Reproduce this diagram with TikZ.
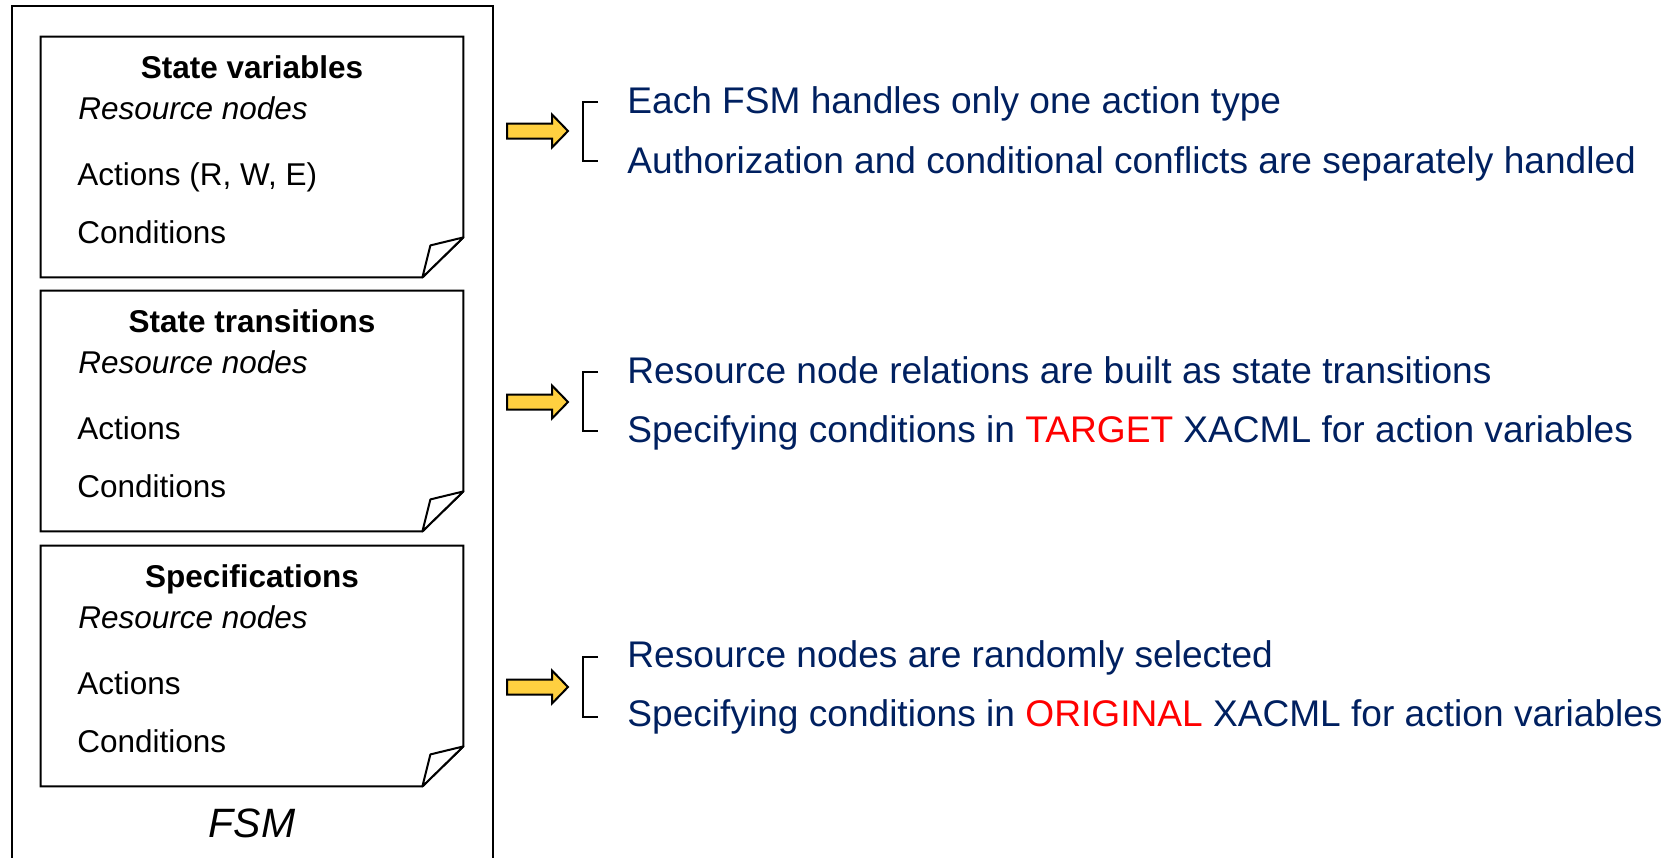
\documentclass[tikz,border=0pt]{standalone}
\usepackage{fontspec}
\setmainfont{Liberation Sans}
\definecolor{navy}{HTML}{002060}
\definecolor{hot}{HTML}{FF0000}
\definecolor{gold}{HTML}{FFD040}

\begin{document}
\begin{tikzpicture}[x=0.5pt,y=-0.5pt,
  frame/.style={line width=1pt, line join=miter},
  notetitle/.style={anchor=base, inner sep=0, font=\fontsize{15.75}{18}\selectfont\bfseries},
  noteitem/.style={anchor=base west, inner sep=0, font=\fontsize{15.75}{18}\selectfont},
  remark/.style={anchor=base west, inner sep=0, text=navy, font=\fontsize{18.55}{22}\selectfont},
  blockarrow/.style={draw=black, fill=gold, line width=1pt, line join=miter},
  bracket/.style={draw=black, line width=1pt},
]
\useasboundingbox (0,0) rectangle (1679,857);
\clip (0,0) rectangle (1679,857);

% outer FSM frame (open at the bottom edge of the page)
\draw[frame] (12,880) -- (12,6) -- (493,6) -- (493,880);
\node[anchor=base, inner sep=0, font=\fontsize{20.5}{24}\selectfont\itshape] (fsm) at (252,837) {FSM};

% three folded notes
\foreach \i/\t/\ttl/\act in {1/37/{State variables}/{Actions (R, W, E)},
                            2/291/{State transitions}/{Actions},
                            3/546/{Specifications}/{Actions}} {
  \node[inner sep=0, minimum width=211pt, minimum height=120pt] (note\i) at (252,\t+120) {};
  \draw[frame, fill=white] (note\i.north west) -- (note\i.north east)
     -- ([yshift=20pt]note\i.south east) -- ([xshift=-20.5pt]note\i.south east)
     -- (note\i.south west) -- cycle;
  \draw[frame, fill=white, line join=round] ([yshift=20pt]note\i.south east)
     -- ([xshift=-16.5pt,yshift=16pt]note\i.south east)
     -- ([xshift=-20.5pt]note\i.south east) -- cycle;
  \node[notetitle] (title\i) at (252,\t+41) {\ttl};
  \node[noteitem, font=\fontsize{15.75}{18}\selectfont\itshape] (res\i) at (78,\t+82) {Resource nodes};
  \node[noteitem] (act\i) at (77,\t+148) {\act};
  \node[noteitem] (cond\i) at (77,\t+206) {Conditions};
}

% block arrows and brackets
\foreach \i/\yc/\bt/\bb in {1/131/102/161, 2/402/372/431, 3/687/657/717} {
  \coordinate (arr\i) at (507,\yc);
  \draw[blockarrow] (arr\i) ++(0,-7.5) -- ++(45,0) -- ++(0,-9) -- ++(16,16.5)
     -- ++(-16,16.5) -- ++(0,-9) -- ++(-45,0) -- cycle;
  \coordinate (brt\i) at (598,\bt);
  \coordinate (brb\i) at (598,\bb);
  \draw[bracket] (brt\i) -- ++(-15,0) |- (brb\i);
}

% remarks
\node[remark] (r1) at (627,113) {Each FSM handles only one action type};
\node[remark] (r2) at (627,173) {Authorization and conditional conflicts are separately handled};
\node[remark] (r3) at (627,383) {Resource node relations are built as state transitions};
\node[remark] (r4) at (627,442) {Specifying conditions in \textcolor{hot}{TARGET} XACML for action variables};
\node[remark] (r5) at (627,667) {Resource nodes are randomly selected};
\node[remark] (r6) at (627,726) {Specifying conditions in \textcolor{hot}{ORIGINAL} XACML for action variables};
\end{tikzpicture}
\end{document}
